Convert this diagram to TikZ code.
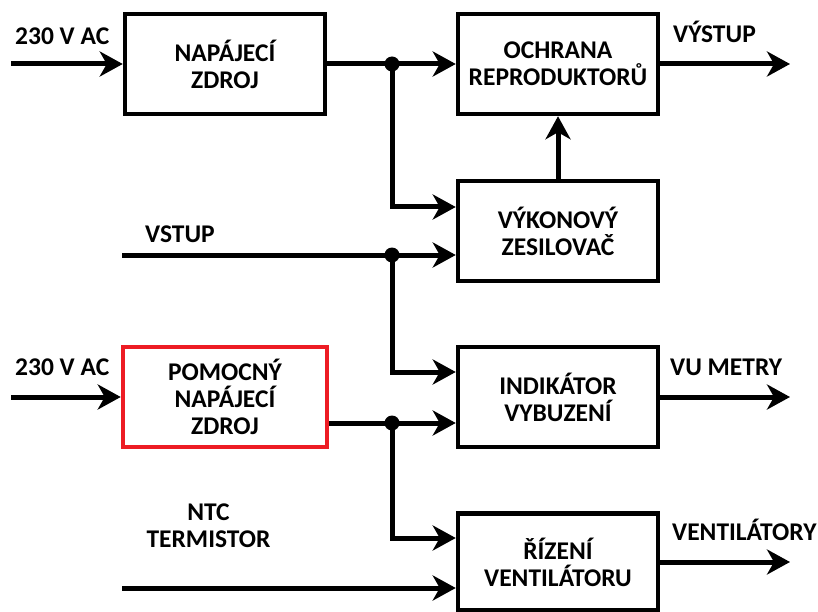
\documentclass[tikz,border=0pt]{standalone}
\usepackage{fontspec}
\setmainfont{Carlito}
\usepackage{xcolor}
\usetikzlibrary{arrows.meta}
\definecolor{boxred}{HTML}{ED1C24}

\tikzset{
  block/.style={draw, line width=4.5pt, minimum width=200pt, minimum height=100pt, align=center, fill=white},
  wire/.style={line width=5pt},
  arr/.style={wire, -{Stealth[length=23pt, width=25pt, inset=7pt]}},
  dot/.style={circle, fill=black, inner sep=0pt, minimum size=15pt},
  lbl/.style={inner sep=0pt, anchor=base west}
}

\begin{document}
\begin{tikzpicture}[x=1pt, y=-1pt, font=\fontsize{25.5}{27}\selectfont\bfseries]
  \useasboundingbox (0,0) rectangle (818,612);

  % bloky
  \node[block] (psu) at (225,64) {NAPÁJECÍ\\ZDROJ};
  \node[block] (prot) at (558,64) {OCHRANA\\REPRODUKTORŮ};
  \node[block] (amp) at (558,231) {VÝKONOVÝ\\ZESILOVAČ};
  \node[block] (ind) at (558,397) {INDIKÁTOR\\VYBUZENÍ};
  \node[block, draw=boxred, minimum width=204pt] (aux) at (225,397) {POMOCNÝ\\NAPÁJECÍ\\ZDROJ};
  \node[block, minimum height=97pt] (fan) at (558,562) {ŘÍZENÍ\\VENTILÁTORU};

  % vstupy a výstupy
  \coordinate (acin1) at (11,64);
  \coordinate (acin2) at (11,397);
  \coordinate (vin) at (122,255);
  \coordinate (ntc) at (122,588);
  \coordinate (out1) at (790,64);
  \coordinate (out2) at (790,397);
  \coordinate (out3) at (790,562);

  % uzly
  \node[dot] (j1) at (392,64) {};
  \node[dot] (j2) at (392,255) {};
  \node[dot] (j3) at (392,423) {};

  % spoje
  \draw[arr] (acin1) -- (psu);
  \draw[wire] (psu) -- (j1.center);
  \draw[arr] (j1.center) -- (prot);
  \draw[arr] (j1.center) |- ([yshift=24pt]amp.west);
  \draw[arr] (amp) -- (prot);
  \draw[wire] (vin) -- (j2.center);
  \draw[arr] (j2.center) -- (j2 -| amp.west);
  \draw[arr] (j2.center) |- ([yshift=25pt]ind.west);
  \draw[arr] (acin2) -- (aux);
  \draw[wire] ([yshift=-26pt]aux.east) -- (j3.center);
  \draw[arr] (j3.center) -- (j3 -| ind.west);
  \draw[arr] (j3.center) |- ([yshift=24pt]fan.west);
  \draw[arr] (ntc) -- (ntc -| fan.west);
  \draw[arr] (prot) -- (out1);
  \draw[arr] (ind) -- (out2);
  \draw[arr] (fan) -- (out3);

  % popisky
  \node[lbl] (lac1) at (15,45) {230 V AC};
  \node[lbl] (lac2) at (15,375) {230 V AC};
  \node[lbl] (lvin) at (145,242) {VSTUP};
  \node[inner sep=0pt, anchor=base, align=center] (lntc) at (208.5,547) {NTC\\TERMISTOR};
  \node[lbl] (lout1) at (673,43) {VÝSTUP};
  \node[lbl] (lout2) at (670,375) {VU METRY};
  \node[lbl] (lout3) at (672,540) {VENTILÁTORY};
\end{tikzpicture}
\end{document}
